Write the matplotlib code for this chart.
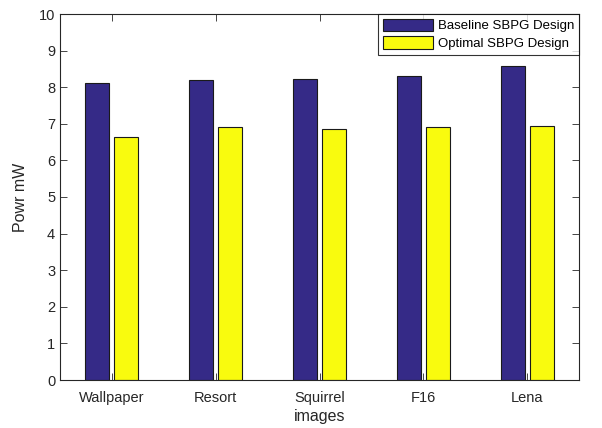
import matplotlib
matplotlib.use("Agg")
import matplotlib.pyplot as plt
import numpy as np

categories = ["Wallpaper", "Resort", "Squirrel", "F16", "Lena"]
baseline = [8.11, 8.21, 8.23, 8.31, 8.57]
optimal = [6.65, 6.90, 6.86, 6.91, 6.95]
series_names = ["Baseline SBPG Design", "Optimal SBPG Design"]

plt.rcParams['font.family'] = ['Liberation Sans', 'DejaVu Sans']

fig = plt.figure(figsize=(6.02, 4.28), dpi=100)
ax = fig.add_axes([60/602, 48/428, 519/602, 366/428])

x = np.arange(1, len(categories) + 1)
w = 0.23
off = 0.14
ax.bar(x - off, baseline, w, color='#352A87', edgecolor='#1a1a1a', linewidth=0.8, label=series_names[0])
ax.bar(x + off, optimal, w, color='#F9FB0E', edgecolor='#1a1a1a', linewidth=0.8, label=series_names[1])

ax.set_xlim(0.5, 5.5)
ax.set_ylim(0, 10)
ax.set_yticks(range(0, 11))
ax.set_xticks(x)
ax.set_xticklabels(categories)
ax.tick_params(direction='in', top=True, right=True, labelsize=10.5, length=5, width=0.6, colors='#262626', labelcolor='#262626')
ax.tick_params(axis='x', pad=8)
for s in ax.spines.values():
    s.set_linewidth(0.8)
    s.set_color('#262626')
ax.set_xlabel("images", fontsize=11.5, color='#262626', labelpad=3)
ax.set_ylabel("Powr mW", fontsize=11.5, color='#262626', labelpad=8)

leg = ax.legend(loc='upper right', fontsize=9.5, frameon=True, fancybox=False, edgecolor='black',
                borderaxespad=0.0, handlelength=3.8, handleheight=1.1, borderpad=0.35, labelspacing=0.3, handletextpad=0.4)
leg.get_frame().set_linewidth(0.8)

fig.savefig("out.png", dpi=100)
